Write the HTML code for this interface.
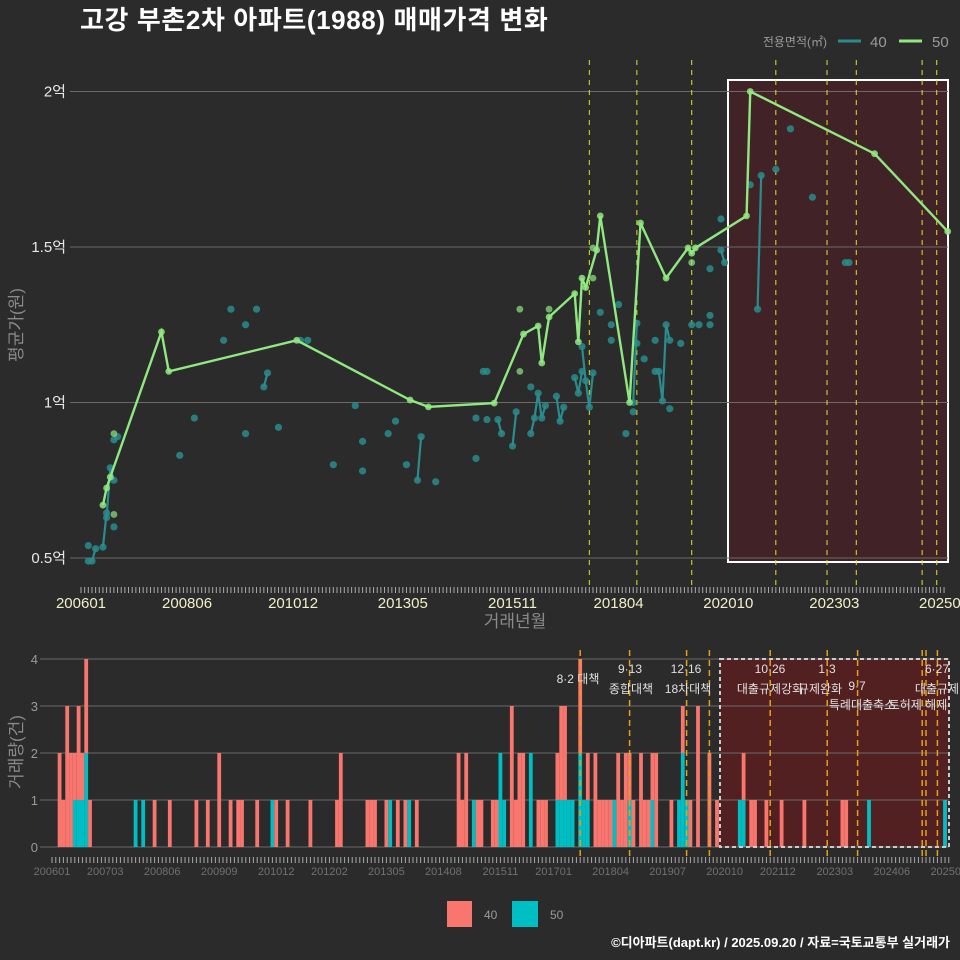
<!DOCTYPE html>
<html><head><meta charset="utf-8">
<style>
html,body{margin:0;padding:0;background:#2b2b2c;}
svg{display:block;font-family:"Liberation Sans","Noto Sans CJK KR",sans-serif;}
</style></head>
<body>
<svg id="chart" width="960" height="960" viewBox="0 0 960 960" xmlns="http://www.w3.org/2000/svg">
<rect x="0" y="0" width="960" height="960" fill="#2b2b2c"/>
<text x="80" y="29" fill="#ffffff" font-size="26" font-weight="bold" letter-spacing="0.6">고강 부촌2차 아파트(1988) 매매가격 변화</text>
<g>
<text x="827" y="46" fill="#9a9a9a" font-size="12" text-anchor="end">전용면적(㎡)</text>
<line x1="838" y1="41" x2="861" y2="41" stroke="#2a8c8c" stroke-width="3"/>
<text x="870" y="47" fill="#9a9a9a" font-size="15">40</text>
<line x1="899" y1="41" x2="922" y2="41" stroke="#90e880" stroke-width="3"/>
<text x="932" y="47" fill="#9a9a9a" font-size="15">50</text>
</g>
<g id="topPanel"></g>
<g id="botPanel"></g>
<text transform="translate(22,325) rotate(-90)" fill="#8a8a8a" font-size="17" text-anchor="middle">평균가(원)</text>
<text x="515" y="627" fill="#8a8a8a" font-size="17" text-anchor="middle">거래년월</text>
<text transform="translate(22,752) rotate(-90)" fill="#8a8a8a" font-size="17" text-anchor="middle">거래량(건)</text>
<g>
<rect x="447" y="901" width="25" height="26" fill="#f8766d"/>
<text x="484" y="919" fill="#9a9a9a" font-size="12">40</text>
<rect x="512" y="901" width="26" height="26" fill="#00bfc4"/>
<text x="550" y="919" fill="#9a9a9a" font-size="12">50</text>
</g>
<text x="950" y="947" fill="#ffffff" font-size="13" font-weight="bold" text-anchor="end">©디아파트(dapt.kr) / 2025.09.20 / 자료=국토교통부 실거래가</text>
</svg>
<script>
// ---- data (months since 2006-01) ----
const greenMonths = [6,7,8,22,24,59,90,95,113,121,125,126,128,135,136,137,138,141,142,150,153,160,166,167,168,182,183,217,237];
const greenValues = [0.67,0.725,0.76,1.227,1.10,1.20,1.008,0.986,0.998,1.22,1.246,1.127,1.275,1.35,1.195,1.40,1.37,1.49,1.60,1.0,1.577,1.40,1.497,1.48,1.497,1.60,2.0,1.80,1.55];
const greenDotMonths = [9,9,120,120,128,140,140,167];
const greenDotValues = [0.90,0.64,1.30,1.10,1.30,1.40,1.497,1.45];
const tealMonths = [2,2,3,4,6,7,7,8,9,9,9,10,27,31,39,41,45,45,48,50,51,54,60,62,69,75,77,77,84,86,89,92,93,97,108,108,110,111,111,114,115,118,119,123,123,124,125,126,127,130,131,132,135,136,137,137,138,139,140,142,145,145,147,149,151,151,152,152,154,157,157,158,159,160,161,161,164,167,169,172,172,172,175,175,176,183,185,186,190,194,200,209,210];
const tealValues = [0.54,0.49,0.49,0.53,0.535,0.645,0.63,0.79,0.75,0.60,0.88,0.89,0.83,0.95,1.20,1.30,1.25,0.90,1.30,1.05,1.095,0.92,1.20,1.20,0.80,0.99,0.875,0.78,0.90,0.94,0.80,0.75,0.89,0.745,0.95,0.82,1.10,1.10,0.945,0.945,0.90,0.86,0.97,1.05,0.90,0.95,1.03,0.95,0.99,1.02,0.94,0.985,1.08,1.03,1.10,1.18,1.07,0.985,1.095,1.29,1.25,1.20,1.315,0.90,0.97,1.0,1.255,1.19,1.14,1.20,1.10,1.10,1.005,1.25,1.20,0.98,1.19,1.25,1.25,1.25,1.28,1.43,1.59,1.49,1.45,1.70,1.30,1.73,1.75,1.88,1.66,1.45,1.45];
const topTickMonths = [0,29,58,88,118,147,177,206,236];
const topTickLabels = ["200601","200806","201012","201305","201511","201804","202010","202303","202509"];
const yTickValues = [0.5,1,1.5,2];
const yTickLabels = ["0.5억","1억","1.5억","2억"];
const policyTopMonths = [139,152,167,190,204,212,230,234];
const policyBotMonths = [139,152,167,173,189,204,212,229,230,233];
const volMonths40 = [2,3,4,5,6,7,8,9,10,27,31,38,41,44,47,49,50,54,59,62,68,75,76,83,84,85,88,91,93,96,107,108,109,112,113,116,117,121,122,123,124,128,129,130,133,134,135,136,139,141,143,144,145,146,147,149,150,151,152,153,155,156,157,158,159,163,166,168,170,173,175,182,184,185,188,192,198,208,209];
const volCounts40 = [2,1,3,2,1,2,1,2,1,1,1,1,1,2,1,1,1,1,1,1,1,1,2,1,1,1,1,1,1,1,2,1,2,1,1,1,1,3,1,2,2,1,1,1,1,2,2,0,2,1,2,1,1,1,1,2,1,2,1,1,2,1,1,1,2,1,1,1,3,2,1,1,1,1,1,1,1,1,1];
const volMonths50 = [6,7,8,9,22,24,58,89,94,111,118,119,126,133,134,135,136,137,139,140,141,148,152,158,165,166,167,181,182,215,235];
const volCounts50 = [1,1,1,2,1,1,1,1,1,1,2,1,2,1,1,1,1,1,2,1,1,1,1,1,1,2,1,1,1,1,1];
const botTickMonths = [0,14,29,44,59,73,88,103,118,132,147,162,177,191,206,221,236];
const botTickLabels = ["200601","200703","200806","200909","201012","201202","201305","201408","201511","201701","201804","201907","202010","202112","202303","202406","202509"];
const volTicks = [0,1,2,3,4];

const NS="http://www.w3.org/2000/svg";
function mk(tag,attrs,parent){const e=document.createElementNS(NS,tag);for(const k in attrs)e.setAttribute(k,attrs[k]);parent.appendChild(e);return e;}
const topG=document.getElementById('topPanel'), botG=document.getElementById('botPanel');
const xT=m=>81+m*3.657, yT=v=>558-(v-0.5)*311;
const xB=m=>52+m*3.8, yB=c=>847-c*47;

// top panel
const box=mk('rect',{x:728,y:80,width:220,height:482,fill:'#4a2024','fill-opacity':0.75,stroke:'#ffffff','stroke-width':2},topG);


yTickValues.forEach((v,i)=>{
  const g=mk('line',{x1:70,x2:948,y1:yT(v),y2:yT(v),stroke:'#6a6a6a','stroke-width':1},topG);
  
  
  const t=mk('text',{x:66,y:yT(v)+5,fill:'#e8e8e8','font-size':15,'text-anchor':'end'},topG);
  t.textContent=yTickLabels[i];
  
  
});
policyTopMonths.forEach(m=>{
  const l=mk('line',{x1:xT(m),x2:xT(m),y1:60,y2:590,stroke:'#e6e020','stroke-width':1,'stroke-dasharray':'5,5'},topG);
  
  
});
for(let m=0;m<=236;m++){
  const k=mk('line',{x1:xT(m),x2:xT(m),y1:587,y2:593,stroke:'#aaaaaa','stroke-width':1},topG);
  
  
}
topTickMonths.forEach((m,i)=>{
  const t=mk('text',{x:xT(m),y:608,fill:'#f0f0c8','font-size':15,'text-anchor':'middle'},topG);
  t.textContent=topTickLabels[i];
  
  
});
for(let i=1;i<tealMonths.length;i++){
  const d=tealMonths[i]-tealMonths[i-1];
  if(d===1){
    const s=mk('line',{x1:xT(tealMonths[i-1]),y1:yT(tealValues[i-1]),x2:xT(tealMonths[i]),y2:yT(tealValues[i]),stroke:'#2a8c8c','stroke-width':2.2},topG);
    
    
  }
}
tealMonths.forEach((m,i)=>{
  const c=mk('circle',{cx:xT(m),cy:yT(tealValues[i]),r:3.6,fill:'#2a8c8c','fill-opacity':0.85},topG);
  
  
});
const pts=greenMonths.map((m,i)=>xT(m)+','+yT(greenValues[i])).join(' ');
const pl=mk('polyline',{points:pts,fill:'none',stroke:'#90e880','stroke-width':2.4},topG);


greenMonths.forEach((m,i)=>{
  const c=mk('circle',{cx:xT(m),cy:yT(greenValues[i]),r:3.4,fill:'#90e880','fill-opacity':0.85},topG);
  
  
});
greenDotMonths.forEach((m,i)=>{
  const c=mk('circle',{cx:xT(m),cy:yT(greenDotValues[i]),r:3.4,fill:'#90e880','fill-opacity':0.7},topG);
  
  
});

// bottom panel
const bbox=mk('rect',{x:720,y:659,width:229,height:188,fill:'#5a1f20','fill-opacity':0.85},botG);


volTicks.forEach(c=>{
  const g=mk('line',{x1:40,x2:949,y1:yB(c),y2:yB(c),stroke:'#6a6a6a','stroke-width':1},botG);
  
  
  const t=mk('text',{x:38,y:yB(c)+5,fill:'#9a9a9a','font-size':13,'text-anchor':'end'},botG);
  t.textContent=String(c);
  
  
});
const base50={};
volMonths50.forEach((m,i)=>{
  base50[m]=volCounts50[i];
  const r=mk('rect',{x:xB(m)-1.9,y:yB(volCounts50[i]),width:3.8,height:volCounts50[i]*47,fill:'#00bfc4'},botG);
  
  
});
volMonths40.forEach((m,i)=>{
  const b=base50[m]||0,c=volCounts40[i];
  const r=mk('rect',{x:xB(m)-1.9,y:yB(b+c),width:3.8,height:c*47,fill:'#f8766d'},botG);
  
  
});
const bb=mk('rect',{x:720,y:659,width:229,height:188,fill:'none',stroke:'#cccccc','stroke-width':2,'stroke-dasharray':'4,3'},botG);


policyBotMonths.forEach(m=>{
  const l=mk('line',{x1:xB(m),x2:xB(m),y1:650,y2:857,stroke:'#e6a010','stroke-width':1.5,'stroke-dasharray':'6,4'},botG);
  
  
});
for(let m=0;m<=236;m++){
  const k=mk('line',{x1:xB(m),x2:xB(m),y1:857,y2:863,stroke:'#aaaaaa','stroke-width':1},botG);
  
  
}
botTickMonths.forEach((m,i)=>{
  const t=mk('text',{x:xB(m),y:875,fill:'#707070','font-size':11,'text-anchor':'middle'},botG);
  t.textContent=botTickLabels[i];
  
  
});
const notes=[[578,683,"8·2 대책"],[630,673,"9·13"],[631,693,"종합대책"],[686,673,"12·16"],[688,693,"18차대책"],[770,673,"10·26"],[770,693,"대출규제강화"],[827,673,"1·3"],[820,693,"규제완화"],[857,690,"9·7"],[862,709,"특례대출축소"],[918,709,"토허제 해제"],[937,673,"6·27"],[937,693,"대출규제"]];
notes.forEach(n=>{
  const t=mk('text',{x:n[0],y:n[1],fill:'#e0e0e0','font-size':12,'text-anchor':'middle'},botG);
  t.textContent=n[2];
  
  
});
</script>
</body></html>
